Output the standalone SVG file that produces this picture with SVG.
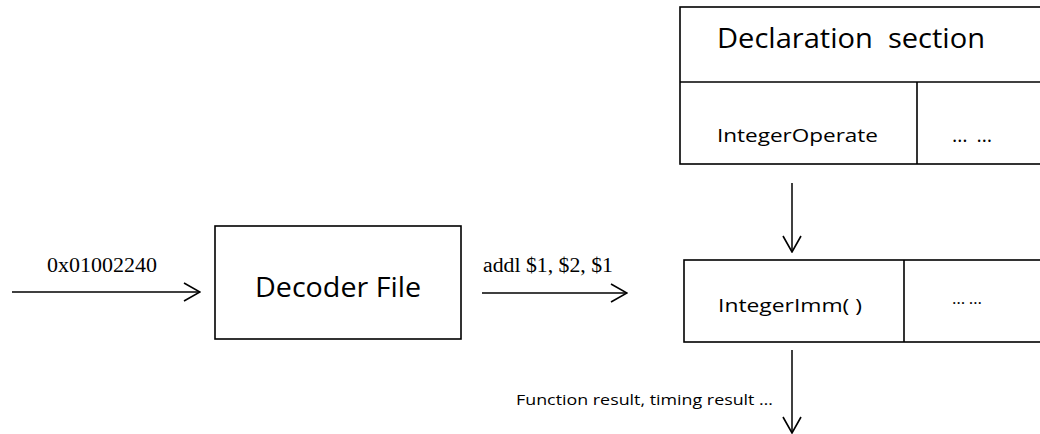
<svg xmlns="http://www.w3.org/2000/svg" width="1040" height="434" viewBox="0 0 1040 434">
  <defs>
    <style>
      .box { fill: #ffffff; stroke: #000000; stroke-width: 1.6; }
      .line { fill: none; stroke: #000000; stroke-width: 1.6; }
      .wire { fill: none; stroke: #000000; stroke-width: 1.5; marker-end: url(#open-arrow); }
      .sans { font-family: "Open Sans", "Noto Sans", "Liberation Sans", sans-serif; fill: #000000; }
      .serif { font-family: "Liberation Serif", "Times New Roman", serif; fill: #000000; }
    </style>
    <marker id="open-arrow" viewBox="0 0 18 20" refX="17" refY="10" markerWidth="18" markerHeight="20" markerUnits="userSpaceOnUse" orient="auto">
      <path d="M1,1 L17,10 L1,19" fill="none" stroke="#000000" stroke-width="1.6"/>
    </marker>
  </defs>
  <rect width="1040" height="434" fill="#ffffff"/>

  <!-- Declaration section table -->
  <g id="declaration-section">
    <rect class="box" x="680" y="7" width="380" height="157"/>
    <line class="line" x1="680" y1="82" x2="1040" y2="82"/>
    <line class="line" x1="917" y1="82" x2="917" y2="164"/>
    <text class="sans" x="717" y="48" font-size="27" textLength="268" lengthAdjust="spacingAndGlyphs" xml:space="preserve">Declaration  section</text>
    <text class="sans" x="717" y="142" font-size="18" textLength="161" lengthAdjust="spacingAndGlyphs">IntegerOperate</text>
    <text class="sans" x="952" y="142" font-size="20" textLength="40" lengthAdjust="spacing">… …</text>
  </g>

  <!-- Decoder file -->
  <g id="decoder-file">
    <rect class="box" x="215" y="226" width="246" height="113"/>
    <text class="sans" x="255" y="297" font-size="27" textLength="166" lengthAdjust="spacingAndGlyphs">Decoder File</text>
  </g>

  <!-- Instruction definition table -->
  <g id="integer-imm">
    <rect class="box" x="684" y="260" width="376" height="82"/>
    <line class="line" x1="904" y1="260" x2="904" y2="342"/>
    <text class="sans" x="718" y="312" font-size="19" textLength="144" lengthAdjust="spacingAndGlyphs">IntegerImm( )</text>
    <text class="sans" x="952" y="304" font-size="17" textLength="30" lengthAdjust="spacing">… …</text>
  </g>

  <!-- Connectors -->
  <g id="connectors">
    <line class="wire" x1="12" y1="292" x2="200" y2="292"/>
    <text class="serif" x="47" y="272" font-size="20" textLength="110" lengthAdjust="spacingAndGlyphs">0x01002240</text>

    <line class="wire" x1="482" y1="293" x2="627" y2="293"/>
    <text class="serif" x="483" y="272" font-size="20" textLength="130" lengthAdjust="spacingAndGlyphs">addl $1, $2, $1</text>

    <line class="wire" x1="792" y1="183" x2="792" y2="252"/>

    <line class="wire" x1="792" y1="350" x2="792" y2="433"/>
    <text class="sans" x="516" y="405" font-size="15" textLength="257" lengthAdjust="spacingAndGlyphs">Function result, timing result …</text>
  </g>
</svg>
